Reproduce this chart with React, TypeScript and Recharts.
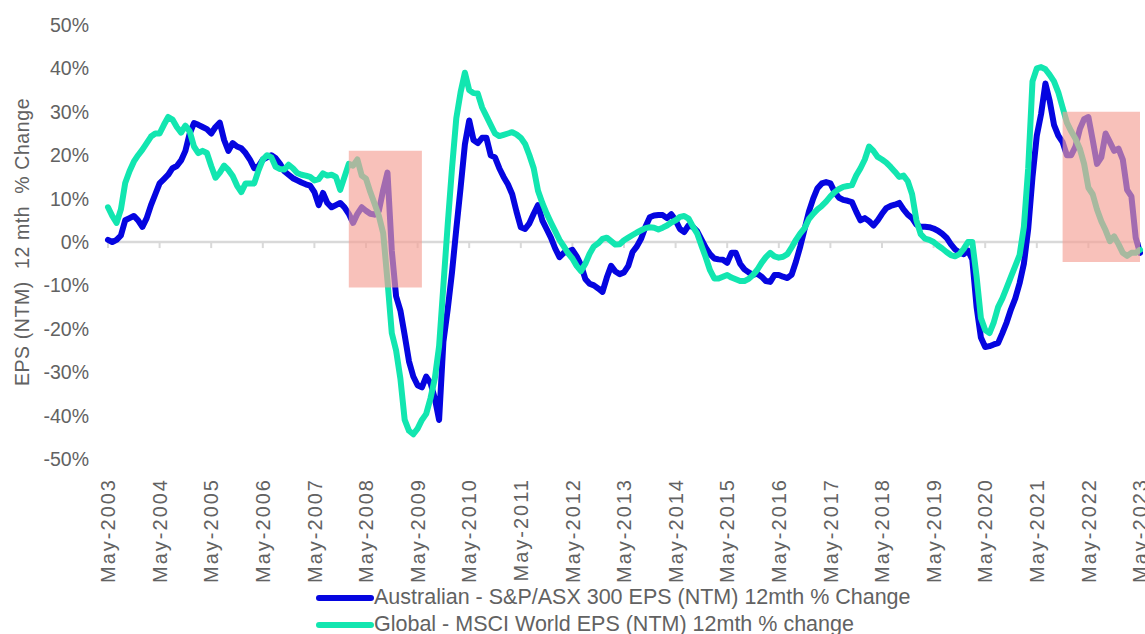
import {
  LineChart,
  Line,
  XAxis,
  YAxis,
  ReferenceLine,
  ReferenceArea,
  Legend,
  Label,
} from "recharts";

const MON = ["Jan", "Feb", "Mar", "Apr", "May", "Jun", "Jul", "Aug", "Sep", "Oct", "Nov", "Dec"];

// monthly categories May-2003 .. May-2023
const months: string[] = Array.from({ length: 241 }, (_, i) => {
  const k = 4 + i;
  return `${MON[k % 12]}-${2003 + Math.floor(k / 12)}`;
});

const yTicks = [-50, -40, -30, -20, -10, 0, 10, 20, 30, 40, 50];

const ausEps = [
  0.5, 0, 0.5, 1.5, 5, 5.5, 6, 5, 3.5, 5.5, 8.5, 11,
  13.5, 14.5, 15.5, 17, 17.5, 18.8, 21, 25, 27.4, 27, 26.5, 26,
  25, 26.5, 27.5, 23.5, 21, 22.8, 22, 21.6, 20.5, 19, 17, 17.5,
  19, 19.5, 20, 19.3, 18, 16.3, 15.5, 14.7, 14.2, 13.7, 13.3, 13,
  11.5, 8.5, 11.3, 9, 8, 8.5, 9, 8, 6.5, 4.4, 6.5, 8,
  7.2, 6.5, 6.3, 7.2, 12, 16, -2, -12.5, -15.8, -21.5, -27.5, -31,
  -33, -33.5, -31, -32.5, -36, -41, -23, -15.5, -7, 3, 12.5, 22.5,
  28, 23.5, 22.8, 24, 24, 20, 19.5, 17, 15, 13.3, 11, 7,
  3.4, 3, 4.3, 6.5, 8.5, 5, 3, 1, -1.5, -3.5, -2.5, -2.2,
  -1.8, -3.3, -5.3, -8.5, -9.6, -10, -10.7, -11.5, -8.2, -5.5, -6.8, -7.4,
  -7, -5.5, -2.3, -1, 0.8, 3.5, 5.7, 6.1, 6.2, 6.2, 5.5, 6.4,
  5, 3, 2.3, 3.8, 3.5, 2.5, 0.6, -1.3, -2.8, -3.8, -4, -4.1,
  -4.8, -2.5, -2.5, -5, -6.3, -7, -7.6, -7.3, -8, -9, -9.2, -7.6,
  -7.6, -8, -8.3, -7.5, -4.5, -1, 3, 7, 10, 12.4, 13.5, 13.8,
  13.5, 11.5, 10.2, 9.7, 9.5, 9.2, 7, 5, 5.5, 4.8, 3.8, 5,
  6.5, 7.8, 8.3, 8.6, 9, 7.5, 6.3, 5.5, 4, 3.5, 3.5, 3.4,
  3.1, 2.6, 1.9, 1, -0.5, -1.7, -2.4, -2.8, -2, -4, -15, -22,
  -24.2, -24, -23.6, -23.3, -21, -18.5, -15.5, -13, -9.5, -5, 3, 15,
  24.5, 29.5, 36.5, 32.5, 27, 24.5, 23, 20, 20, 22, 26, 28.3,
  28.8, 23.5, 18, 19.5, 25, 23, 21, 21.5, 19, 12, 10.5, 1,
  -2.5,
];

const globalEps = [
  8, 6, 4.4, 7.5, 13.6, 16.3, 18.5, 20, 21.3, 22.8, 24.3, 25,
  25, 27, 28.8, 28.2, 26.5, 25.2, 26.8, 25.5, 22, 20.5, 21, 20.5,
  17.5, 14.8, 16, 17.6, 16.6, 15.2, 13, 11.5, 13.5, 13.5, 13.5, 16.5,
  19, 20, 19.5, 17.3, 16.8, 16.7, 17.8, 17, 15.9, 15.5, 15.3, 15,
  14.2, 14.5, 15.8, 15.3, 15.5, 15, 12, 15, 18, 17.6, 19, 15.3,
  14.6, 11.5, 8.8, 6, 2, -9, -21, -25, -31.5, -41, -43.5, -44.3,
  -43, -41, -39.6, -36, -31.5, -24, -10, 4, 17, 28.5, 34.5, 39,
  35, 34.3, 34.2, 31, 29, 27, 25, 24.4, 24.7, 25, 25.3, 24.8,
  24, 22.6, 20, 17, 11.8, 9, 6.6, 4.5, 2.5, 0.5, -1, -2.6,
  -3.8, -5.5, -6.7, -5, -2.7, -1, -0.3, 0.7, 1, 0.2, -0.6, -0.5,
  0.4, 1, 1.6, 2.2, 2.7, 3.2, 3.4, 3.3, 2.9, 3.3, 3.8, 4.5,
  5, 5.8, 6, 5.4, 3.6, 2, -0.8, -3.5, -6.5, -8.4, -8.4, -8,
  -7.6, -8.2, -8.6, -9, -9, -8.5, -7.6, -6.4, -4.8, -3.5, -2.5, -3.3,
  -3.6, -3.4, -2.8, -1.2, 0.5, 2, 3.2, 5.3, 6.5, 7.5, 8.3, 9.3,
  10.5, 11.5, 12.2, 12.7, 12.9, 13.1, 15.3, 17, 19, 22, 21, 19.6,
  19, 18.3, 17.3, 16.2, 15, 15.3, 14, 11, 5, 1.8, 0.8, 0.5,
  0, -0.8, -1.5, -2.3, -3, -3.3, -2.8, -1.6, 0, 0, -8, -17.5,
  -20.3, -21, -18.5, -15, -13, -10.5, -8, -5.5, -3, 3.5, 17, 37,
  40, 40.3, 39.8, 38.5, 37, 34.5, 31, 27.5, 25.5, 23.8, 21.5, 18,
  12.5, 11, 7.5, 4.8, 2.7, 0.2, 1.3, -0.5, -2.5, -3.2, -2.5, -2.5,
  -1.8,
];

const yearTicks = months.filter((_, i) => i % 12 === 0);

const AUS_NAME = "Australian - S&P/ASX 300 EPS (NTM) 12mth % Change";
const GLOBAL_NAME = "Global - MSCI World EPS (NTM) 12mth % change";

const BLUE = "#0505E0";
const GREEN = "#12E6B0";
const TEXT = "#626262";
const FONT = "'Liberation Sans', Arial, sans-serif";

const data = months.map((m, i) => ({ month: m, aus: ausEps[i], global: globalEps[i] }));

const XTick = ({ x, y, payload }: any) => (
  <g transform={`translate(${x},${y + 19})`}>
    <text
      transform="rotate(-90)"
      textAnchor="end"
      dy="0.36em"
      fill={TEXT}
      fontSize={20}
      letterSpacing={2}
      fontFamily={FONT}
    >
      {payload.value}
    </text>
  </g>
);

const LegendContent = () => (
  <div style={{ paddingLeft: 316, fontFamily: FONT, fontSize: 21.5, color: TEXT }}>
    {[
      { name: AUS_NAME, color: BLUE },
      { name: GLOBAL_NAME, color: GREEN },
    ].map((it) => (
      <div key={it.name} style={{ display: "flex", alignItems: "center", height: 27, whiteSpace: "nowrap" }}>
        <svg width={58} height={10} style={{ display: "block" }}>
          <line x1={3} y1={5} x2={55} y2={5} stroke={it.color} strokeWidth={6} strokeLinecap="round" />
        </svg>
        <span>{it.name}</span>
      </div>
    ))}
  </div>
);

export default function App() {
  return (
    <div style={{ position: "absolute", left: 0, top: 0, background: "#fff" }}>
      <LineChart width={1145} height={634} data={data} margin={{ top: 25, right: 5, left: 0, bottom: 0 }}>
        <XAxis
          dataKey="month"
          interval={11}
          axisLine={false}
          tickLine={false}
          tickSize={0}
          tickMargin={0}
          height={125}
          tick={<XTick />}
        />
        <YAxis
          domain={[-50, 50]}
          ticks={yTicks}
          width={108}
          axisLine={false}
          tickLine={false}
          tickSize={0}
          tickMargin={19}
          tickFormatter={(v) => `${v}%`}
          tick={{ fill: TEXT, fontSize: 19.5, fontFamily: FONT }}
        >
          <Label
            content={(p: any) => {
              const vb = p.viewBox;
              const cy = vb.y + vb.height / 2;
              return (
                <text
                  x={22}
                  y={cy}
                  transform={`rotate(-90, 22, ${cy})`}
                  textAnchor="middle"
                  dominantBaseline="central"
                  fill={TEXT}
                  fontSize={19.5}
                  letterSpacing={0.6}
                  fontFamily={FONT}
                  style={{ whiteSpace: "pre" }}
                >
                  {"EPS (NTM)  12 mth  % Change"}
                </text>
              );
            }}
          />
        </YAxis>
        <ReferenceLine y={0} stroke="#d9d9d9" strokeWidth={2.5} />
        {yearTicks.map((m) => (
          <ReferenceLine
            key={m}
            segment={[
              { x: m, y: 0 },
              { x: m, y: -1.4 },
            ]}
            stroke="#d9d9d9"
            strokeWidth={2}
          />
        ))}
        <Line
          type="linear"
          dataKey="aus"
          name={AUS_NAME}
          stroke={BLUE}
          strokeWidth={6}
          strokeLinejoin="round"
          strokeLinecap="round"
          dot={false}
          isAnimationActive={false}
        />
        <Line
          type="linear"
          dataKey="global"
          name={GLOBAL_NAME}
          stroke={GREEN}
          strokeWidth={6}
          strokeLinejoin="round"
          strokeLinecap="round"
          dot={false}
          isAnimationActive={false}
        />
        <ReferenceArea
          x1="Jan-2008"
          x2="Jun-2009"
          y1={-10.5}
          y2={21}
          fill="#F4A196"
          fillOpacity={0.66}
          stroke="none"
          {...({ zIndex: 1500 } as any)}
        />
        <ReferenceArea
          x1="Nov-2021"
          x2="May-2023"
          y1={-4.6}
          y2={30}
          fill="#F4A196"
          fillOpacity={0.66}
          stroke="none"
          {...({ zIndex: 1500 } as any)}
        />
        <Legend verticalAlign="bottom" align="left" height={50} content={<LegendContent />} />
      </LineChart>
    </div>
  );
}
